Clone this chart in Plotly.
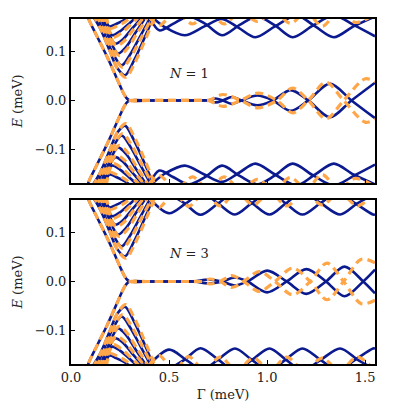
import plotly.graph_objects as go

# ---------------- data ----------------
# Fan of sub-gap states (upper half, same in both panels), blue
FAN_BLUE = [
    ([0.105, 0.15, 0.20, 0.235, 0.275, 0.32, 0.365, 0.41, 0.425],
     [0.175, 0.145, 0.098, 0.066, 0.051, 0.08, 0.118, 0.16, 0.175]),
    ([0.125, 0.165, 0.21, 0.258, 0.30, 0.35, 0.40, 0.415],
     [0.175, 0.14, 0.098, 0.071, 0.092, 0.128, 0.165, 0.178]),
    ([0.14, 0.18, 0.215, 0.24, 0.28, 0.33, 0.38, 0.395],
     [0.175, 0.14, 0.108, 0.095, 0.108, 0.138, 0.168, 0.178]),
    ([0.155, 0.19, 0.225, 0.265, 0.31, 0.36, 0.375],
     [0.175, 0.138, 0.115, 0.124, 0.145, 0.168, 0.178]),
    ([0.165, 0.19, 0.21, 0.25, 0.30, 0.34, 0.355],
     [0.175, 0.145, 0.132, 0.14, 0.157, 0.172, 0.18]),
    ([0.175, 0.195, 0.23, 0.28, 0.32],
     [0.172, 0.15, 0.155, 0.165, 0.178]),
]
FAN_ORANGE = [
    ([0.11, 0.155, 0.205, 0.24, 0.28, 0.325, 0.37, 0.415, 0.43],
     [0.175, 0.142, 0.094, 0.062, 0.047, 0.076, 0.115, 0.158, 0.175]),
    ([0.13, 0.17, 0.215, 0.263, 0.305, 0.355, 0.405, 0.42],
     [0.175, 0.138, 0.095, 0.067, 0.088, 0.125, 0.163, 0.178]),
    ([0.145, 0.185, 0.22, 0.245, 0.285, 0.335, 0.385, 0.40],
     [0.175, 0.137, 0.104, 0.091, 0.104, 0.135, 0.166, 0.178]),
    ([0.16, 0.195, 0.23, 0.27, 0.315, 0.365, 0.38],
     [0.175, 0.135, 0.111, 0.12, 0.142, 0.166, 0.178]),
    ([0.17, 0.195, 0.215, 0.255, 0.305, 0.345, 0.36],
     [0.175, 0.142, 0.128, 0.136, 0.154, 0.17, 0.18]),
    ([0.18, 0.20, 0.235, 0.285, 0.325],
     [0.172, 0.146, 0.151, 0.162, 0.178]),
]

# Lowest (Majorana) state, N = 1
ZM1_BLUE_X = [0.07, 0.09, 0.135, 0.18, 0.22, 0.25, 0.27, 0.285, 0.30, 0.40, 0.50, 0.60, 0.66, 0.70,
              0.738, 0.775, 0.82, 0.87, 0.95, 1.03, 1.12, 1.21, 1.32, 1.43, 1.55]
ZM1_BLUE_E = [0.19, 0.165, 0.128, 0.092, 0.057, 0.030, 0.013, 0.004, 0.0, 0.0, 0.0, 0.0, 0.0, 0.0,
              0.004, 0.0, -0.007, 0.0, 0.010, 0.0, -0.021, 0.0, 0.034, 0.0, -0.036]
ZM1_ORANGE_X = [0.07, 0.09, 0.135, 0.18, 0.22, 0.25, 0.27, 0.285, 0.30, 0.40, 0.50, 0.60, 0.66, 0.70,
                0.775, 0.865, 0.955, 1.05, 1.13, 1.21, 1.30, 1.39, 1.50, 1.55]
ZM1_ORANGE_E = [0.19, 0.165, 0.128, 0.092, 0.057, 0.030, 0.013, 0.004, 0.0, 0.0, 0.0, 0.0, 0.0, 0.0,
                0.012, 0.0, -0.015, 0.0, 0.025, 0.0, -0.037, 0.0, 0.044, 0.038]

# Lowest (Majorana) state, N = 3
ZM3_BLUE_X = [0.07, 0.09, 0.135, 0.18, 0.22, 0.25, 0.27, 0.285, 0.30, 0.40, 0.50, 0.58, 0.63,
              0.70, 0.77, 0.835, 0.90, 1.00, 1.10, 1.20, 1.30, 1.395, 1.49, 1.55]
ZM3_BLUE_E = [0.19, 0.165, 0.128, 0.092, 0.057, 0.030, 0.013, 0.004, 0.0, 0.0, 0.0, 0.0, 0.0,
              0.004, 0.0, -0.008, 0.0, 0.022, 0.0, -0.025, 0.0, 0.030, 0.0, -0.024]
ZM3_ORANGE_X = [0.07, 0.09, 0.135, 0.18, 0.22, 0.25, 0.27, 0.285, 0.30, 0.40, 0.50, 0.60, 0.66,
                0.71, 0.76, 0.82, 0.88, 0.96, 1.04, 1.13, 1.22, 1.305, 1.39, 1.48, 1.55]
ZM3_ORANGE_E = [0.19, 0.165, 0.128, 0.092, 0.057, 0.030, 0.013, 0.004, 0.0, 0.0, 0.0, 0.0, 0.0,
                0.005, 0.0, -0.012, 0.0, 0.020, 0.0, -0.027, 0.0, 0.037, 0.0, -0.045, -0.038]

# Bulk band edge states, N = 1
BULK1_BLUE = [
    ([0.40, 0.45, 0.52, 0.60, 0.685, 0.77, 0.86, 0.95, 1.04, 1.13, 1.235, 1.34, 1.445, 1.55],
     [0.17, 0.142, 0.155, 0.17, 0.155, 0.132, 0.153, 0.17, 0.152, 0.128, 0.152, 0.172, 0.152, 0.13]),
    ([0.41, 0.48, 0.58, 0.68, 0.77, 0.855, 0.94, 1.04, 1.15, 1.245, 1.34, 1.44, 1.55],
     [0.17, 0.148, 0.132, 0.15, 0.165, 0.147, 0.128, 0.15, 0.172, 0.15, 0.128, 0.15, 0.17]),
]
BULK1_ORANGE = [
    ([0.40, 0.45, 0.535, 0.62, 0.70, 0.78, 0.865, 0.95, 1.035, 1.12, 1.20, 1.28, 1.365, 1.45, 1.55],
     [0.168, 0.152, 0.18, 0.155, 0.18, 0.155, 0.18, 0.16, 0.18, 0.156, 0.18, 0.15, 0.18, 0.158, 0.175]),
]
# Bulk band edge states, N = 3
BULK3_BLUE = [
    ([0.40, 0.50, 0.585, 0.67, 0.75, 0.836, 0.92, 1.01, 1.095, 1.18, 1.27, 1.36, 1.45, 1.54, 1.55],
     [0.168, 0.138, 0.158, 0.178, 0.158, 0.1355, 0.158, 0.18, 0.158, 0.1355, 0.158, 0.18, 0.158, 0.1355, 0.1357]),
    ([0.42, 0.50, 0.58, 0.66, 0.75, 0.836, 0.925, 1.012, 1.095, 1.18, 1.275, 1.372, 1.46, 1.55],
     [0.17, 0.175, 0.158, 0.135, 0.158, 0.18, 0.158, 0.1355, 0.158, 0.18, 0.158, 0.1355, 0.158, 0.178]),
]
BULK3_ORANGE = [
    ([0.40, 0.45, 0.525, 0.60, 0.68, 0.76, 0.845, 0.93, 1.015, 1.10, 1.19, 1.28, 1.37, 1.46, 1.55],
     [0.168, 0.15, 0.18, 0.152, 0.18, 0.153, 0.18, 0.155, 0.18, 0.153, 0.18, 0.155, 0.18, 0.153, 0.18]),
]

X_TICKS = [0.0, 0.5, 1.0, 1.5]
Y_TICKS = [-0.1, 0.0, 0.1]
PANEL_LABELS = ["<i>N</i> = 1", "<i>N</i> = 3"]

# ---------------- styles ----------------
BLUE = "#0b1a8e"
ORANGE = "rgb(255,166,72)"
FONT = "DejaVu Serif"
FS = 13

fig = go.Figure()


def add_pair(x, y, color, dashed, xa, ya):
    """Add a level and its particle-hole partner (-E)."""
    for sign in (1, -1):
        fig.add_trace(go.Scatter(
            x=x, y=[sign * v for v in y], mode="lines",
            line=dict(color=color, width=3.2 if dashed else 2.6,
                      dash="8px,5px" if dashed else "solid",
                      shape="spline", smoothing=0.9),
            xaxis=xa, yaxis=ya, showlegend=False, hoverinfo="skip"))


panels = [
    ("x", "y", ZM1_BLUE_X, ZM1_BLUE_E, ZM1_ORANGE_X, ZM1_ORANGE_E, BULK1_BLUE, BULK1_ORANGE),
    ("x2", "y2", ZM3_BLUE_X, ZM3_BLUE_E, ZM3_ORANGE_X, ZM3_ORANGE_E, BULK3_BLUE, BULK3_ORANGE),
]
for xa, ya, zbx, zby, zox, zoy, bb, bo in panels:
    for cx, cy in FAN_BLUE:
        add_pair(cx, cy, BLUE, False, xa, ya)
    for cx, cy in bb:
        add_pair(cx, cy, BLUE, False, xa, ya)
    add_pair(zbx, zby, BLUE, False, xa, ya)
    for cx, cy in FAN_ORANGE:
        add_pair(cx, cy, ORANGE, True, xa, ya)
    for cx, cy in bo:
        add_pair(cx, cy, ORANGE, True, xa, ya)
    add_pair(zox, zoy, ORANGE, True, xa, ya)

TXT = "#222"
axis_common = dict(showline=True, linecolor="black", linewidth=2, mirror=True,
                   ticks="inside", ticklen=4, tickwidth=1.2, tickcolor="black",
                   showgrid=False, zeroline=False,
                   tickfont=dict(family=FONT, size=FS, color=TXT))

fig.update_layout(
    width=399, height=410,
    margin=dict(l=59, r=32, t=9, b=54),
    plot_bgcolor="white", paper_bgcolor="white",
    font=dict(family=FONT, size=FS, color=TXT),
    xaxis=dict(domain=[0, 1], anchor="y", range=[0, 1.55], tickvals=X_TICKS,
               showticklabels=False, **axis_common),
    yaxis=dict(domain=[0.525, 1], anchor="x", range=[-0.167, 0.165], tickvals=Y_TICKS,
               tickformat=".1f",
               title=dict(text="<i>E</i> (meV)", font=dict(family=FONT, size=FS, color=TXT), standoff=9),
               **axis_common),
    xaxis2=dict(domain=[0, 1], anchor="y2", range=[0, 1.55], tickvals=X_TICKS,
                tickformat=".1f",
                title=dict(text="Γ (meV)", font=dict(family=FONT, size=FS, color=TXT), standoff=6),
                **axis_common),
    yaxis2=dict(domain=[0, 0.4755], anchor="x2", range=[-0.167, 0.165], tickvals=Y_TICKS,
                tickformat=".1f",
                title=dict(text="<i>E</i> (meV)", font=dict(family=FONT, size=FS, color=TXT), standoff=9),
                **axis_common),
    annotations=[
        dict(text=PANEL_LABELS[0], x=0.60, y=0.054, xref="x", yref="y", showarrow=False,
             font=dict(family=FONT, size=FS, color=TXT)),
        dict(text=PANEL_LABELS[1], x=0.60, y=0.057, xref="x2", yref="y2", showarrow=False,
             font=dict(family=FONT, size=FS, color=TXT)),
    ],
)

fig.write_html("out.html")
